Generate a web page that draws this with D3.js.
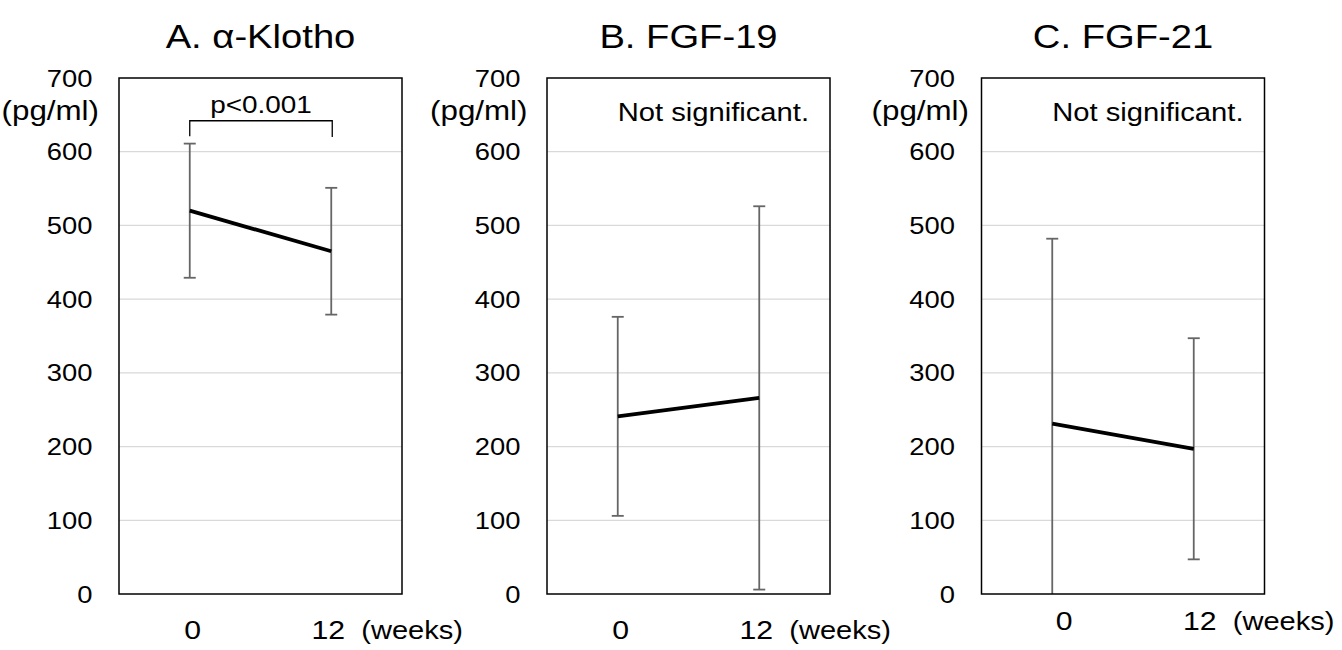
<!DOCTYPE html>
<html>
<head>
<meta charset="utf-8">
<script src="https://cdn.jsdelivr.net/npm/d3@7"></script>
<style>
  html, body { margin: 0; padding: 0; background: #fff; }
  svg { display: block; }
  text { font-family: "Liberation Sans", Arial, sans-serif; fill: #000; }
</style>
</head>
<body>
<svg id="chart" width="1342" height="650"></svg>
<script>
// ---- data ----
const panelTitles = ["A. \u03B1-Klotho", "B. FGF-19", "C. FGF-21"];
const timePoints = ["0", "12"];
const klothoMean = [520, 465];
const klothoSD   = [91, 86];
const fgf19Mean  = [241, 266];
const fgf19SD    = [135, 260];
const fgf21Mean  = [231, 197];
const fgf21SD    = [251, 150];
const yTicks = [0, 100, 200, 300, 400, 500, 600, 700];
const notes = ["p<0.001", "Not significant.", "Not significant."];
const unitLabel = "(pg/ml)";
const timeUnit = "(weeks)";

const means = [klothoMean, fgf19Mean, fgf21Mean];
const sds = [klothoSD, fgf19SD, fgf21SD];

// ---- layout ----
const svg = d3.select("#chart");
const boxLefts = [119, 547, 981.5];
const boxW = 283, boxTop = 78, boxBottom = 594;
const sx = 1.14; // horizontal text stretch
const unitRight = [20, 19.5, 12.5];
const xLabelShift = [0, 0, 9];
const xLabelBase = [639, 639, 630];

function stretchedText(g, x, y, str, size, anchor) {
  const t = g.append("g").attr("transform", `translate(${x},${y}) scale(${sx},1)`)
    .append("text").attr("x", 0).attr("y", 0)
    .attr("font-size", size).attr("text-anchor", anchor).text(str);
  return t;
}

const y = d3.scaleLinear().domain([0, 700]).range([boxBottom, boxTop]);

panelTitles.forEach((title, i) => {
  const L = boxLefts[i], R = L + boxW;
  const g = svg.append("g");
  const x = d3.scalePoint().domain(timePoints).range([L, R]).padding(0.5);

  // gridlines
  g.selectAll("line.grid").data(yTicks.filter(v => v > 0 && v < 700)).enter()
    .append("line").attr("class", "grid")
    .attr("x1", L).attr("x2", R)
    .attr("y1", d => y(d)).attr("y2", d => y(d))
    .attr("stroke", "#d9d9d9").attr("stroke-width", 1.3);

  // y tick labels
  yTicks.forEach(v => stretchedText(g, L - 26.5, y(v) + 8.6, String(v), 24, "end"));
  stretchedText(g, L - unitRight[i], 120, unitLabel, 27.5, "end");

  // error bars
  const capW = 12;
  timePoints.forEach((tp, j) => {
    const m = means[i][j], s = sds[i][j];
    const hi = m + s, lo = m - s;
    const cx = x(tp);
    const loC = Math.max(0, lo);
    g.append("line").attr("x1", cx).attr("x2", cx)
      .attr("y1", y(hi)).attr("y2", y(loC))
      .attr("stroke", "#666").attr("stroke-width", 1.8);
    g.append("line").attr("x1", cx - capW / 2).attr("x2", cx + capW / 2)
      .attr("y1", y(hi)).attr("y2", y(hi))
      .attr("stroke", "#666").attr("stroke-width", 1.8);
    if (lo >= 0) {
      g.append("line").attr("x1", cx - capW / 2).attr("x2", cx + capW / 2)
        .attr("y1", y(lo)).attr("y2", y(lo))
        .attr("stroke", "#666").attr("stroke-width", 1.8);
    }
  });

  // mean line
  const line = d3.line().x((d, j) => x(timePoints[j])).y(d => y(d));
  g.append("path").datum(means[i]).attr("d", line)
    .attr("fill", "none").attr("stroke", "#000").attr("stroke-width", 3.8);

  // box
  g.append("rect").attr("x", L).attr("y", boxTop).attr("width", boxW).attr("height", boxBottom - boxTop)
    .attr("fill", "none").attr("stroke", "#000").attr("stroke-width", 1.5);

  // title
  stretchedText(g, (L + R) / 2, 48, title, 33.5, "middle");

  // x labels
  const xs = xLabelShift[i];
  stretchedText(g, x(timePoints[0]) + 3 + xs, xLabelBase[i], timePoints[0], 26.5, "middle");
  stretchedText(g, x(timePoints[1]) - 3 + xs, xLabelBase[i], timePoints[1], 26.5, "middle");
  stretchedText(g, x(timePoints[1]) - 3 + xs + 33, xLabelBase[i], timeUnit, 25.5, "start");

  // annotations
  if (i === 0) {
    const x0 = x(timePoints[0]), x1 = x(timePoints[1]) + 1;
    const bTop = y(642), bEnd0 = y(621), bEnd1 = y(620);
    g.append("path")
      .attr("d", `M${x0},${bEnd0} V${bTop} H${x1} V${bEnd1}`)
      .attr("fill", "none").attr("stroke", "#000").attr("stroke-width", 1.3);
    stretchedText(g, (x0 + x1) / 2, 112.5, notes[0], 24.5, "middle");
  } else {
    stretchedText(g, R - 21, 121, notes[i], 25.6, "end");
  }
});
</script>
</body>
</html>
